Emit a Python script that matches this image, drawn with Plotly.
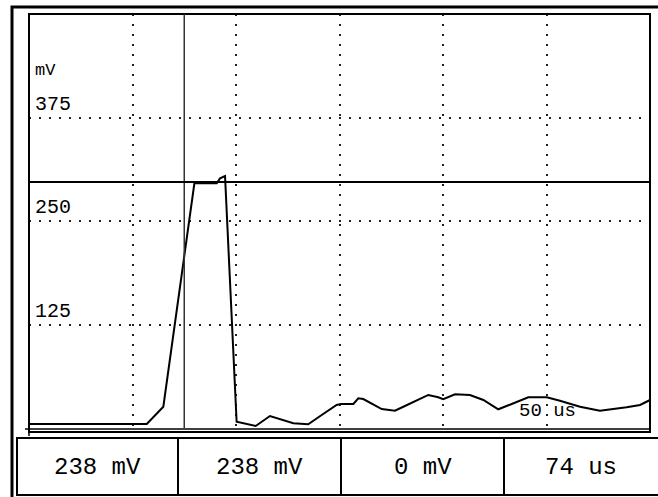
import plotly.graph_objects as go

# scope trace (time in us, level in mV)
time_us = [0, 56.9, 64.9, 79.9, 90.7, 92.3, 94.7, 100.3, 109.5, 116.4, 127.7, 134.9,
           141.4, 148.6, 150.7, 156.7, 159.1, 161.5, 170.4, 176.8, 181.6, 192.9, 197.7,
           200.1, 205.8, 213.0, 219.5, 226.7, 233.2, 241.2, 250.1, 256.5, 266.2, 275.8,
           288.7, 295.2, 300]
level_mv = [4.8, 4.8, 25.7, 295.5, 295.5, 301.6, 304.3, 7.6, 2.4, 14.5, 5.7, 4.5,
            15.7, 27.8, 29.0, 29.0, 35.9, 35.0, 22.9, 20.9, 26.6, 39.9, 37.1,
            34.7, 40.7, 39.9, 33.8, 22.6, 29.0, 37.1, 37.1, 33.0, 25.7, 20.9,
            25.0, 27.8, 33.8]

y_grid = [125, 250, 375]
x_grid = [50, 100, 150, 200, 250]
cursor_time = 75
cursor_level = 297
readouts = ["238 mV", "238 mV", "0 mV", "74 us"]
timebase = "50 us"
unit = "mV"

W, H = 658, 497
FONT = "Liberation Mono, DejaVu Sans Mono, monospace"


def px(x):
    return x / W


def py(y):
    return 1 - y / H


fig = go.Figure()
fig.add_trace(go.Scatter(x=time_us, y=level_mv, mode="lines",
                         line=dict(color="black", width=2), hoverinfo="skip"))

shapes = []
# outer frame (left + top)
shapes.append(dict(type="path", xref="paper", yref="paper",
                   path=f"M {px(12)} {py(497)} L {px(12)} {py(7)} L {px(660)} {py(7)}",
                   line=dict(color="black", width=3)))
# plot box
shapes.append(dict(type="rect", xref="paper", yref="paper",
                   x0=px(29), x1=px(650), y0=py(432), y1=py(14),
                   line=dict(color="black", width=2)))
# axis line + tick
shapes.append(dict(type="line", xref="paper", yref="paper",
                   x0=px(25), x1=px(650), y0=py(429), y1=py(429),
                   line=dict(color="black", width=1.5)))
shapes.append(dict(type="line", xref="paper", yref="paper",
                   x0=px(29), x1=px(29), y0=py(424), y1=py(436),
                   line=dict(color="black", width=1.5)))
# cursors
shapes.append(dict(type="line", xref="x", yref="paper",
                   x0=cursor_time, x1=cursor_time, y0=py(14), y1=py(428),
                   line=dict(color="#333", width=1.5)))
shapes.append(dict(type="line", xref="paper", yref="y",
                   x0=px(29), x1=px(650), y0=cursor_level, y1=cursor_level,
                   line=dict(color="black", width=2)))
# readout table
shapes.append(dict(type="rect", xref="paper", yref="paper",
                   x0=px(17), x1=px(662), y0=py(495), y1=py(438),
                   line=dict(color="black", width=2)))
cell_edges = [17, 178, 341, 504, 658]
for xe in cell_edges[1:-1]:
    shapes.append(dict(type="line", xref="paper", yref="paper",
                       x0=px(xe), x1=px(xe), y0=py(495), y1=py(438),
                       line=dict(color="black", width=2)))

annotations = []
annotations.append(dict(text=unit, xref="paper", yref="paper", x=px(33), y=py(70),
                        xanchor="left", yanchor="middle", showarrow=False,
                        font=dict(family=FONT, size=17, color="black")))
for v in y_grid:
    annotations.append(dict(text=str(v), xref="paper", yref="y", x=px(33), y=v,
                            xanchor="left", yanchor="middle", yshift=13, showarrow=False,
                            font=dict(family=FONT, size=20, color="black")))
annotations.append(dict(text=timebase, xref="paper", yref="paper", x=px(547), y=py(411),
                        xanchor="center", yanchor="middle", showarrow=False,
                        font=dict(family=FONT, size=19, color="black")))
for i, txt in enumerate(readouts):
    xc = (cell_edges[i] + cell_edges[i + 1]) / 2
    annotations.append(dict(text=txt, xref="paper", yref="paper", x=px(xc), y=py(467),
                            xanchor="center", yanchor="middle", showarrow=False,
                            font=dict(family=FONT, size=24, color="black")))

grid = dict(showgrid=True, gridcolor="#222", gridwidth=1.5, griddash="2px,8px",
            showticklabels=False, ticks="", zeroline=False, showline=False)

fig.update_layout(
    width=W, height=H,
    margin=dict(l=0, r=0, t=0, b=0),
    paper_bgcolor="white", plot_bgcolor="white",
    showlegend=False,
    shapes=shapes,
    annotations=annotations,
    xaxis=dict(range=[0, 300], domain=[px(29), px(650)], tickvals=x_grid, **grid),
    yaxis=dict(range=[0, 500], domain=[py(428), py(14)], tickvals=y_grid, **grid),
)

fig.write_html("out.html", config={"displayModeBar": False},
               post_script="document.body.style.margin='0';")
